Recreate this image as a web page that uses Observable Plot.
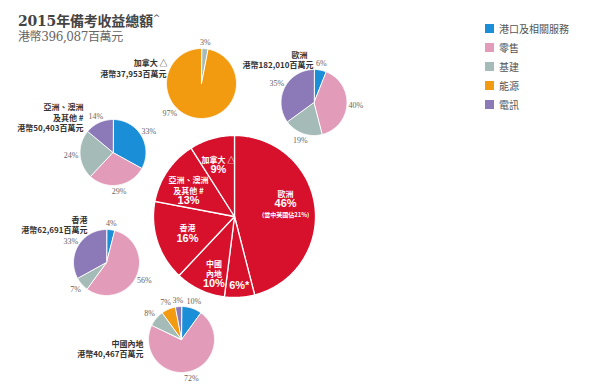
<!DOCTYPE html>
<html><head><meta charset="utf-8">
<script src="https://cdn.jsdelivr.net/npm/d3@7"></script>
<script src="https://cdn.jsdelivr.net/npm/@observablehq/plot@0.6"></script>
<style>
body{margin:0;background:#fff;}
#wrap{position:relative;width:600px;height:390px;overflow:hidden;font-family:"Noto Sans CJK TC",sans-serif;}
#title{position:absolute;left:18px;top:10px;font-family:"DejaVu Serif","Noto Sans CJK TC",serif;font-weight:bold;font-size:14px;color:#444;line-height:17px;white-space:nowrap;letter-spacing:-0.2px;}
#title sup{font-size:9px;font-weight:normal;vertical-align:5px;}
#subtitle{position:absolute;left:18px;top:30px;font-family:"DejaVu Serif","Noto Sans CJK TC",serif;font-size:12px;color:#666;line-height:15px;white-space:nowrap;letter-spacing:-0.4px;}
#legend{position:absolute;left:485px;top:19px;}
.lg-swatch{height:18px;}
.lg-swatch-label{color:#555;}
#chart{position:absolute;left:0;top:0;}
</style></head><body>
<div id="wrap"><div id="chart"></div><div id="title"></div><div id="subtitle"></div><div id="legend"></div></div>
<script>
// ---------- data ----------
const titleText = "2015年備考收益總額";
const titleMark = "^";
const totalAmount = "港幣396,087百萬元";

const segments = ["港口及相關服務","零售","基建","能源","電訊"];
const segmentColors = ["#1a8fd7","#e39bba","#a5bbb7","#f29b10","#8b7ab7"];

// main pie (clockwise from 12 o'clock)
const regionNames = ["歐洲","","中國\n內地","香港","亞洲、澳洲\n及其他 #","加拿大 △"];
const regionShares = [46,6,10,16,13,9];
const regionShareLabels = ["46%","6%*","10%","16%","13%","9%"];
const europeNote = "(當中英國佔21%)";

// small pies
const pieNames = ["加拿大 △","歐洲","亞洲、澳洲\n及其他 #","香港","中國內地"];
const pieAmounts = ["港幣37,953百萬元","港幣182,010百萬元","港幣50,403百萬元","港幣62,691百萬元","港幣40,467百萬元"];
const canadaSegments = ["基建","能源"];
const canadaValues = [3,97];
const europeSegments = ["港口及相關服務","零售","基建","電訊"];
const europeValues = [6,40,19,35];
const asiaSegments = ["港口及相關服務","零售","基建","電訊"];
const asiaValues = [33,29,24,14];
const hkSegments = ["港口及相關服務","零售","基建","電訊"];
const hkValues = [4,56,7,33];
const chinaSegments = ["港口及相關服務","零售","基建","能源","電訊"];
const chinaValues = [10,72,8,7,3];

// ---------- layout ----------
const mainLayout = {cx:234, cy:216, r:81,
  label:[[76,0.65],[176,0.85],[197,0.87],[245,0.64],[289,0.6],[341,0.61]]};
const smallLayout = [
  {cx:201, cy:83, r:35, name:[-34,-21], amt:[-35,-10], angle:{1:227}},
  {cx:313.5, cy:102, r:33, name:[-6.5,-48], amt:[-0.5,-38], angle:{}},
  {cx:112.5, cy:152, r:33, name:[-29.5,-40.5], amt:[-29.5,-25], angle:{}},
  {cx:106, cy:262, r:33, name:[-19,-43], amt:[-19,-33], angle:{}},
  {cx:181, cy:339, r:33, name:[-38,4], amt:[-38,14], angle:{}}
];
const smallData = [
  [canadaSegments, canadaValues],
  [europeSegments, europeValues],
  [asiaSegments, asiaValues],
  [hkSegments, hkValues],
  [chinaSegments, chinaValues]
];

// ---------- geometry helpers ----------
const pie = d3.pie().sort(null).value(d => d);
function wedgePoints(values, cats, cx, cy, r, id) {
  const arcs = pie(values);
  const pts = [];
  arcs.forEach((a, i) => {
    const key = id + "-" + i;
    pts.push({key, cat: cats[i], x: cx, y: cy});
    const n = Math.max(2, Math.ceil((a.endAngle - a.startAngle) / (Math.PI / 180)));
    for (let k = 0; k <= n; k++) {
      const t = a.startAngle + (a.endAngle - a.startAngle) * k / n;
      pts.push({key, cat: cats[i], x: cx + r * Math.sin(t), y: cy - r * Math.cos(t)});
    }
  });
  return {arcs, pts};
}

// main pie
const mainGeo = wedgePoints(regionShares, regionNames, mainLayout.cx, mainLayout.cy, mainLayout.r, "main");
const mainLabels = mainGeo.arcs.map((a, i) => {
  const [deg, f] = mainLayout.label[i];
  const t = deg * Math.PI / 180;
  return {x: mainLayout.cx + f * mainLayout.r * Math.sin(t), y: mainLayout.cy - f * mainLayout.r * Math.cos(t),
          name: regionNames[i], pct: regionShareLabels[i], note: i === 0 ? europeNote : ""};
});

// small pies
let smallPts = [], smallLabels = [], smallTitles = [];
smallData.forEach(([cats, vals], j) => {
  const L = smallLayout[j];
  const g = wedgePoints(vals, cats, L.cx, L.cy, L.r, "p" + j);
  smallPts = smallPts.concat(g.pts);
  g.arcs.forEach((a, i) => {
    const deg = L.angle[i];
    const t = deg != null ? deg * Math.PI / 180 : (a.startAngle + a.endAngle) / 2;
    const rr = L.r + 6 + 3 * Math.abs(Math.sin(t));
    smallLabels.push({x: L.cx + rr * Math.sin(t), y: L.cy - rr * Math.cos(t), text: vals[i] + "%"});
  });
  smallTitles.push({x: L.cx + L.name[0], y: L.cy + L.name[1], text: pieNames[j], kind: "name"});
  smallTitles.push({x: L.cx + L.amt[0], y: L.cy + L.amt[1], text: pieAmounts[j], kind: "amt"});
});

const cjk = "'Noto Sans CJK TC', sans-serif";
const chart = Plot.plot({
  width: 600, height: 390, margin: 0,
  x: {domain: [0, 600], range: [0, 600], axis: null},
  y: {domain: [0, 390], range: [0, 390], axis: null},
  color: {domain: segments, range: segmentColors},
  style: {fontFamily: cjk, background: "transparent", overflow: "visible"},
  marks: [
    Plot.line(mainGeo.pts, {x: "x", y: "y", z: "key", fill: "#d7102b", stroke: "white", strokeWidth: 1.3, curve: "linear-closed"}),
    Plot.line(smallPts, {x: "x", y: "y", z: "key", fill: "cat", stroke: "white", strokeWidth: 1, curve: "linear-closed"}),
    Plot.text(mainLabels, {x: "x", y: "y", text: "pct", fill: "white", fontSize: 11, fontWeight: "bold", fontFamily: "'Liberation Sans', sans-serif"}),
    Plot.text(mainLabels, {x: "x", y: "y", text: "name", fill: "white", fontSize: 8, fontWeight: "bold", lineAnchor: "bottom", dy: -7, lineHeight: 1.3}),
    Plot.text(mainLabels, {x: "x", y: "y", text: "note", fill: "white", fontSize: 6, fontWeight: "bold", dy: 11}),
    Plot.text(smallLabels, {x: "x", y: "y", text: "text", fill: "#666", fontSize: 8, fontFamily: "'Liberation Serif', serif"}),
    Plot.text(smallTitles, {x: "x", y: "y", text: "text", fill: "#333", fontSize: 8, fontWeight: "bold", textAnchor: "end", lineHeight: 1.3})
  ]
});
document.getElementById("chart").appendChild(chart);

document.getElementById("title").innerHTML = titleText + "<sup>" + titleMark + "</sup>";
document.getElementById("subtitle").textContent = totalAmount;

const legend = Plot.legend({
  color: {domain: segments, range: segmentColors},
  legend: "swatches", columns: 1, swatchSize: 9, className: "lg",
  style: {fontSize: "10px", fontFamily: cjk, color: "#555"}
});
document.getElementById("legend").appendChild(legend);
</script>
</body></html>
